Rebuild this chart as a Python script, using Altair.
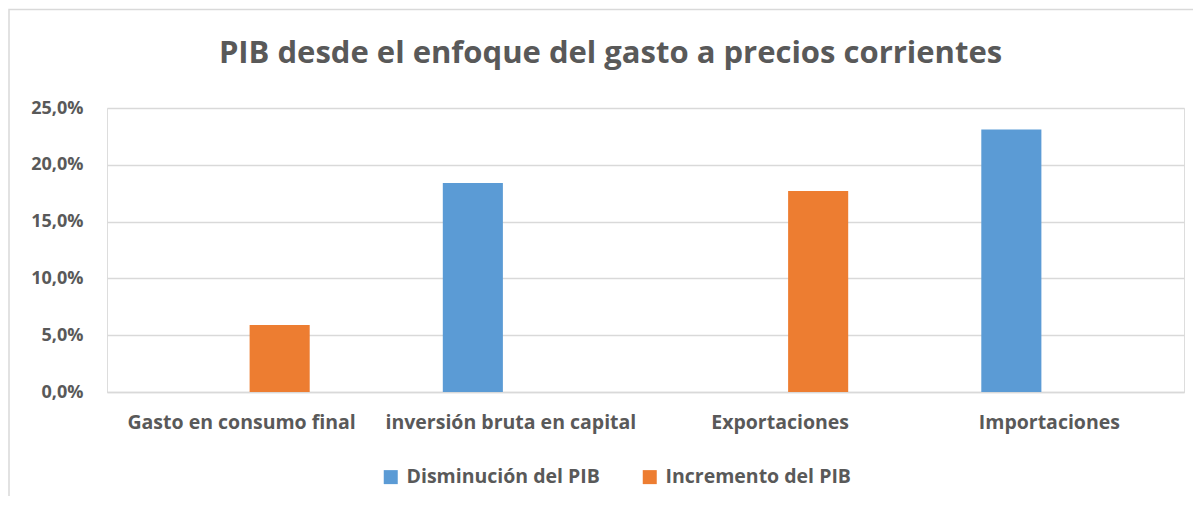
import altair as alt
import pandas as pd

categories = ["Gasto en consumo final", "inversión bruta en capital", "Exportaciones", "Importaciones"]
series_names = ["Disminución del PIB", "Incremento del PIB"]
bar_category = ["Gasto en consumo final", "inversión bruta en capital", "Exportaciones", "Importaciones"]
bar_series = ["Incremento del PIB", "Disminución del PIB", "Incremento del PIB", "Disminución del PIB"]
bar_values = [0.059, 0.184, 0.177, 0.231]
y_ticks = [0, 0.05, 0.10, 0.15, 0.20, 0.25]

df = pd.DataFrame({"cat": bar_category, "serie": bar_series, "valor": bar_values})

FONT = "Open Sans"
GREY = "#595959"
W, H = 1077, 284

bars = alt.Chart(df).mark_bar().encode(
    x=alt.X("cat:N", sort=categories,
            scale=alt.Scale(domain=categories, paddingInner=0, paddingOuter=0),
            axis=alt.Axis(title=None, labelAngle=0, ticks=False, domain=True,
                          domainColor="#d9d9d9", domainWidth=1.5, labelLimit=0,
                          labelFont=FONT, labelFontSize=19.5, labelFontWeight="bold",
                          labelColor=GREY, labelPadding=21, grid=False)),
    xOffset=alt.XOffset("serie:N", sort=series_names,
                        scale=alt.Scale(domain=series_names, paddingInner=0.21, paddingOuter=0.875)),
    y=alt.Y("valor:Q", scale=alt.Scale(domain=[0, 0.25], nice=False),
            axis=alt.Axis(title=None, values=y_ticks, ticks=False, domain=False,
                          labelExpr="replace(format(datum.value, '.1%'), '.', ',')",
                          labelFont=FONT, labelFontSize=18, labelFontWeight="bold",
                          labelColor=GREY, labelPadding=24,
                          gridColor="#d9d9d9", gridWidth=1.5)),
    color=alt.Color("serie:N", sort=series_names,
                    scale=alt.Scale(domain=series_names, range=["#5b9bd5", "#ed7d31"]),
                    legend=alt.Legend(title=None, orient="none", direction="horizontal",
                                      legendX=274, legendY=359, labelLimit=0,
                                      symbolType="square", symbolSize=196,
                                      symbolStrokeWidth=0, symbolOpacity=1,
                                      labelFont=FONT, labelFontSize=19.5, labelFontWeight="bold",
                                      labelColor=GREY, labelOffset=6, columnPadding=40)),
)

border = alt.Chart(pd.DataFrame({"k": [0]})).mark_rect(
    fill=None, stroke="#d9d9d9", strokeWidth=1.5, clip=False
).encode(
    x=alt.value(-98), x2=alt.value(1200), y=alt.value(-98.5), y2=alt.value(500)
)

chart = alt.layer(border, bars).properties(
    width=W, height=H,
    title=alt.TitleParams("PIB desde el enfoque del gasto a precios corrientes",
                          font=FONT, fontSize=31, fontWeight="bold", color=GREY,
                          anchor="middle", frame="group", dx=-35, offset=0,
                          baseline="alphabetic", dy=85),
    autosize=alt.AutoSizeParams(type="none"),
    padding={"left": 99, "top": 100, "right": 9, "bottom": 104},
).configure_view(strokeWidth=0, stroke="transparent").configure(background="white")

chart.save("out.html", embed_options={"renderer": "svg", "actions": False})
